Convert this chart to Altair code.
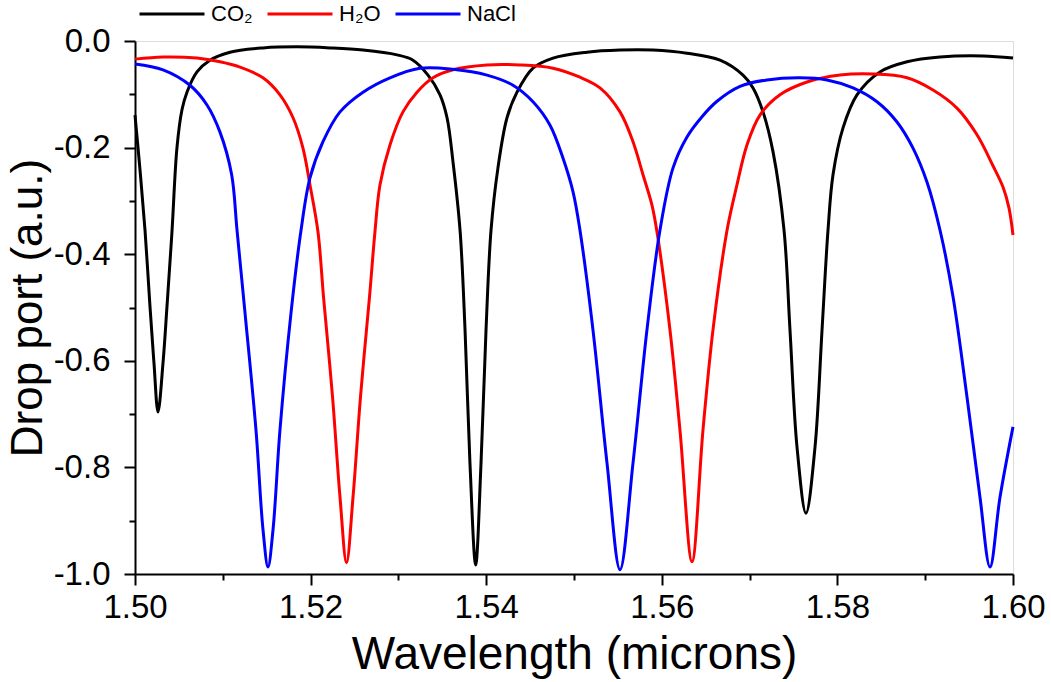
import altair as alt
import pandas as pd

# CO2 (black)
co2_x = [1.50000, 1.50057, 1.50114, 1.50171, 1.50216, 1.50262, 1.50319, 1.50364, 1.50421, 1.50478,
         1.50535, 1.50592, 1.50706, 1.50854, 1.51082, 1.51458, 1.51845, 1.52221, 1.52597, 1.52984,
         1.53166, 1.53337, 1.53474, 1.53554, 1.53622, 1.53702, 1.53759, 1.53815, 1.53880, 1.53941,
         1.53998, 1.54055, 1.54134, 1.54237, 1.54351, 1.54533, 1.54761, 1.55148, 1.55524, 1.55900,
         1.56287, 1.56663, 1.56925, 1.57039, 1.57153, 1.57267, 1.57392, 1.57460, 1.57540, 1.57642,
         1.57745, 1.57825, 1.57893, 1.57950, 1.58064, 1.58223, 1.58485, 1.58793, 1.59169, 1.59658,
         1.60000]
co2_y = [-0.139, -0.242, -0.355, -0.499, -0.604, -0.696, -0.604, -0.499, -0.358, -0.200,
         -0.129, -0.096, -0.058, -0.036, -0.021, -0.013, -0.011, -0.013, -0.017, -0.026,
         -0.036, -0.064, -0.101, -0.144, -0.227, -0.355, -0.542, -0.792, -0.983, -0.792,
         -0.542, -0.355, -0.238, -0.144, -0.096, -0.051, -0.032, -0.021, -0.017, -0.017,
         -0.023, -0.036, -0.064, -0.088, -0.133, -0.208, -0.355, -0.542, -0.762, -0.886,
         -0.762, -0.542, -0.355, -0.251, -0.163, -0.101, -0.058, -0.039, -0.030, -0.028,
         -0.032]

# H2O (red)
h2o_x = [1.50000, 1.50319, 1.50706, 1.50968, 1.51196, 1.51458, 1.51651, 1.51800, 1.51913, 1.51993,
         1.52084, 1.52147, 1.52250, 1.52335, 1.52409, 1.52483, 1.52568, 1.52671, 1.52733, 1.52790,
         1.52904, 1.53052, 1.53212, 1.53394, 1.53622, 1.54009, 1.54385, 1.54761, 1.55068, 1.55296,
         1.55524, 1.55672, 1.55786, 1.55888, 1.55945, 1.56093, 1.56207, 1.56344, 1.56469, 1.56583,
         1.56743, 1.56856, 1.56970, 1.57118, 1.57346, 1.57654, 1.58030, 1.58405, 1.58793, 1.59089,
         1.59362, 1.59590, 1.59772, 1.59886, 1.59954, 1.60000]
h2o_y = [-0.034, -0.030, -0.032, -0.039, -0.049, -0.069, -0.101, -0.144, -0.201, -0.270,
         -0.358, -0.480, -0.668, -0.856, -0.979, -0.856, -0.668, -0.480, -0.358, -0.270,
         -0.195, -0.133, -0.096, -0.069, -0.054, -0.045, -0.045, -0.051, -0.068, -0.088,
         -0.133, -0.189, -0.251, -0.308, -0.358, -0.542, -0.730, -0.977, -0.730, -0.542,
         -0.355, -0.270, -0.195, -0.139, -0.101, -0.077, -0.064, -0.062, -0.069, -0.092,
         -0.126, -0.176, -0.234, -0.274, -0.313, -0.364]

# NaCl (blue)
nacl_x = [1.50000, 1.50319, 1.50626, 1.50820, 1.50968, 1.51100, 1.51162, 1.51253, 1.51378, 1.51458,
          1.51515, 1.51572, 1.51651, 1.51777, 1.51891, 1.51993, 1.52141, 1.52335, 1.52597, 1.52904,
          1.53246, 1.53622, 1.54009, 1.54305, 1.54533, 1.54727, 1.54875, 1.54989, 1.55068, 1.55216,
          1.55376, 1.55524, 1.55672, 1.55831, 1.55979, 1.56128, 1.56287, 1.56458, 1.56629, 1.56891,
          1.57198, 1.57574, 1.57882, 1.58178, 1.58451, 1.58679, 1.58861, 1.59021, 1.59169, 1.59317,
          1.59476, 1.59624, 1.59738, 1.59852, 1.60000]
nacl_y = [-0.043, -0.054, -0.083, -0.120, -0.171, -0.250, -0.355, -0.510, -0.730, -0.917,
          -0.987, -0.917, -0.730, -0.510, -0.355, -0.257, -0.189, -0.133, -0.096, -0.069,
          -0.051, -0.053, -0.064, -0.083, -0.114, -0.158, -0.220, -0.283, -0.355, -0.542,
          -0.792, -0.992, -0.792, -0.542, -0.355, -0.238, -0.180, -0.142, -0.113, -0.085,
          -0.073, -0.069, -0.073, -0.088, -0.114, -0.152, -0.201, -0.265, -0.355, -0.480,
          -0.668, -0.856, -0.987, -0.856, -0.724]

series_names = ["CO\u2082", "H\u2082O", "NaCl"]
series_colors = ["#000000", "#FF0000", "#0000FF"]

x_ticks = [1.50, 1.51, 1.52, 1.53, 1.54, 1.55, 1.56, 1.57, 1.58, 1.59, 1.60]
y_ticks = [-1.0, -0.9, -0.8, -0.7, -0.6, -0.5, -0.4, -0.3, -0.2, -0.1, 0.0]

rows = []
for name, xs, ys in zip(series_names, [co2_x, h2o_x, nacl_x], [co2_y, h2o_y, nacl_y]):
    for i, (a, b) in enumerate(zip(xs, ys)):
        rows.append({"series": name, "wl": a, "v": b, "order": i})
df = pd.DataFrame(rows)

FONT = "Liberation Sans"

chart = alt.Chart(df).mark_line(strokeWidth=3, interpolate="catmull-rom").encode(
    x=alt.X("wl:Q",
            scale=alt.Scale(domain=[1.5, 1.6], nice=False, zero=False),
            axis=alt.Axis(values=x_ticks,
                          labelExpr="round(datum.value*100) % 2 == 0 ? format(datum.value, '.2f') : ''",
                          tickSize={"condition": {"test": "round(datum.value*100) % 2 == 0", "value": 11}, "value": 6},
                          labelPadding=6, labelFontSize=33, labelFont=FONT, labelColor="#000",
                          title="Wavelength (microns)", titleFontSize=46, titleFont=FONT,
                          titleFontWeight="normal", titleColor="#000", titlePadding=8,
                          domainColor="#000", domainWidth=2, tickColor="#000", tickWidth=2,
                          grid=False, labelFlush=False, labelOverlap=False)),
    y=alt.Y("v:Q",
            scale=alt.Scale(domain=[-1.0, 0.0], nice=False, zero=False),
            axis=alt.Axis(values=y_ticks,
                          labelExpr="round(datum.value*10) % 2 == 0 ? replace(format(datum.value, '.1f'), '\u2212', '-') : ''",
                          tickSize={"condition": {"test": "round(datum.value*10) % 2 == 0", "value": 11}, "value": 6},
                          labelPadding=14, labelFontSize=33, labelFont=FONT, labelColor="#000",
                          title="Drop port (a.u.)", titleFontSize=44, titleFont=FONT,
                          titleFontWeight="normal", titleColor="#000", titlePadding=3,
                          domainColor="#000", domainWidth=2, tickColor="#000", tickWidth=2,
                          grid=False, labelFlush=False, labelOverlap=False)),
    color=alt.Color("series:N",
                    scale=alt.Scale(domain=series_names, range=series_colors),
                    legend=alt.Legend(orient="none", legendX=3, legendY=-61, direction="horizontal",
                                      title=None, symbolType="stroke", symbolSize=4225,
                                      symbolStrokeWidth=3, labelFontSize=22, labelFont=FONT,
                                      labelColor="#000", labelOffset=5, columnPadding=8,
                                      padding=0)),
    detail="series:N",
    order="order:Q",
).properties(
    width=878, height=533,
    autosize=alt.AutoSizeParams(type="none"),
    padding={"left": 135, "top": 41, "right": 38, "bottom": 108},
).configure_view(stroke="#000", strokeWidth=2).configure(background="white")

chart.save("out.html", embed_options={"renderer": "svg", "actions": False})
